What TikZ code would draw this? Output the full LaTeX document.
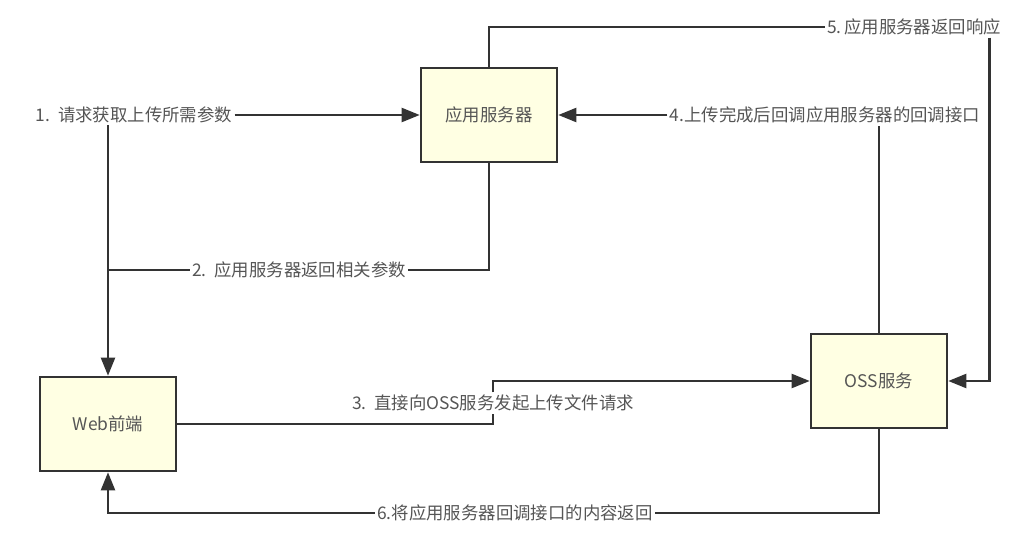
\documentclass[tikz,border=0pt]{standalone}
\usepackage{fontspec}
\setmainfont{Noto Sans CJK SC}
\usepackage{tikz}
\usetikzlibrary{arrows.meta}
\definecolor{boxfill}{HTML}{FFFFE3}
\definecolor{boxline}{HTML}{333333}
\definecolor{txtgray}{HTML}{555555}
\newcommand{\lblfont}{\fontsize{8.7}{10}\selectfont}

\begin{document}
\begin{tikzpicture}[x=0.5pt, y=-0.5pt,
    box/.style={draw=boxline, line width=1.3pt, fill=boxfill, minimum width=68pt, minimum height=47pt, text=txtgray, font=\lblfont},
    lbl/.style={text=txtgray, inner sep=1pt, font=\lblfont},
    flow/.style={draw=boxline, line width=1.1pt},
    tip/.style={-{Triangle[length=9pt,width=7pt]}}]
    \useasboundingbox (0,0) rectangle (1024,546);
    \node[box](app)                     at (489,115) {应用服务器};
    \node[box](web)                     at (108,424) {Web前端};
    \node[box](oss)                     at (879,381) {OSS服务};
    \node[lbl](l1)                      at (134,115) {1.\ \ 请求获取上传所需参数};
    \node[lbl](l2)                      at (299,270) {2.\ \ 应用服务器返回相关参数};
    \node[lbl](l3)                      at (493,403) {3.\ \ 直接向OSS服务发起上传文件请求};
    \node[lbl](l4)                      at (825,115) {4.上传完成后回调应用服务器的回调接口};
    \node[lbl](l5)                      at (914,27)  {5.\,应用服务器返回响应};
    \node[lbl](l6)                      at (515,513) {6.将应用服务器回调接口的内容返回};
    % 1. web -> app
    \draw[flow, tip] (l1.east) -- (app.west);
    \draw[flow, tip] (l1.south -| web.north) -- (web.north);
    % 2. app -> web
    \draw[flow] (app.south) |- (l2.east);
    \draw[flow] (l2.west) -- (l2.west -| web.north);
    % 3. web -> oss
    \draw[flow] (web.east) -| (l3.south);
    \draw[flow, tip] (l3.north) |- (oss.west);
    % 4. oss -> app
    \draw[flow] (oss.north) -- (oss.north |- l4.south);
    \draw[flow, tip] (l4.west) -- (app.east);
    % 5. app -> oss
    \draw[flow] (app.north) |- (l5.west);
    \draw[flow, tip] ([xshift=-7pt]l5.south east) |- (oss.east);
    % 6. oss -> web
    \draw[flow] (oss.south) |- (l6.east);
    \draw[flow, tip] (l6.west) -| (web.south);
\end{tikzpicture}
\end{document}
